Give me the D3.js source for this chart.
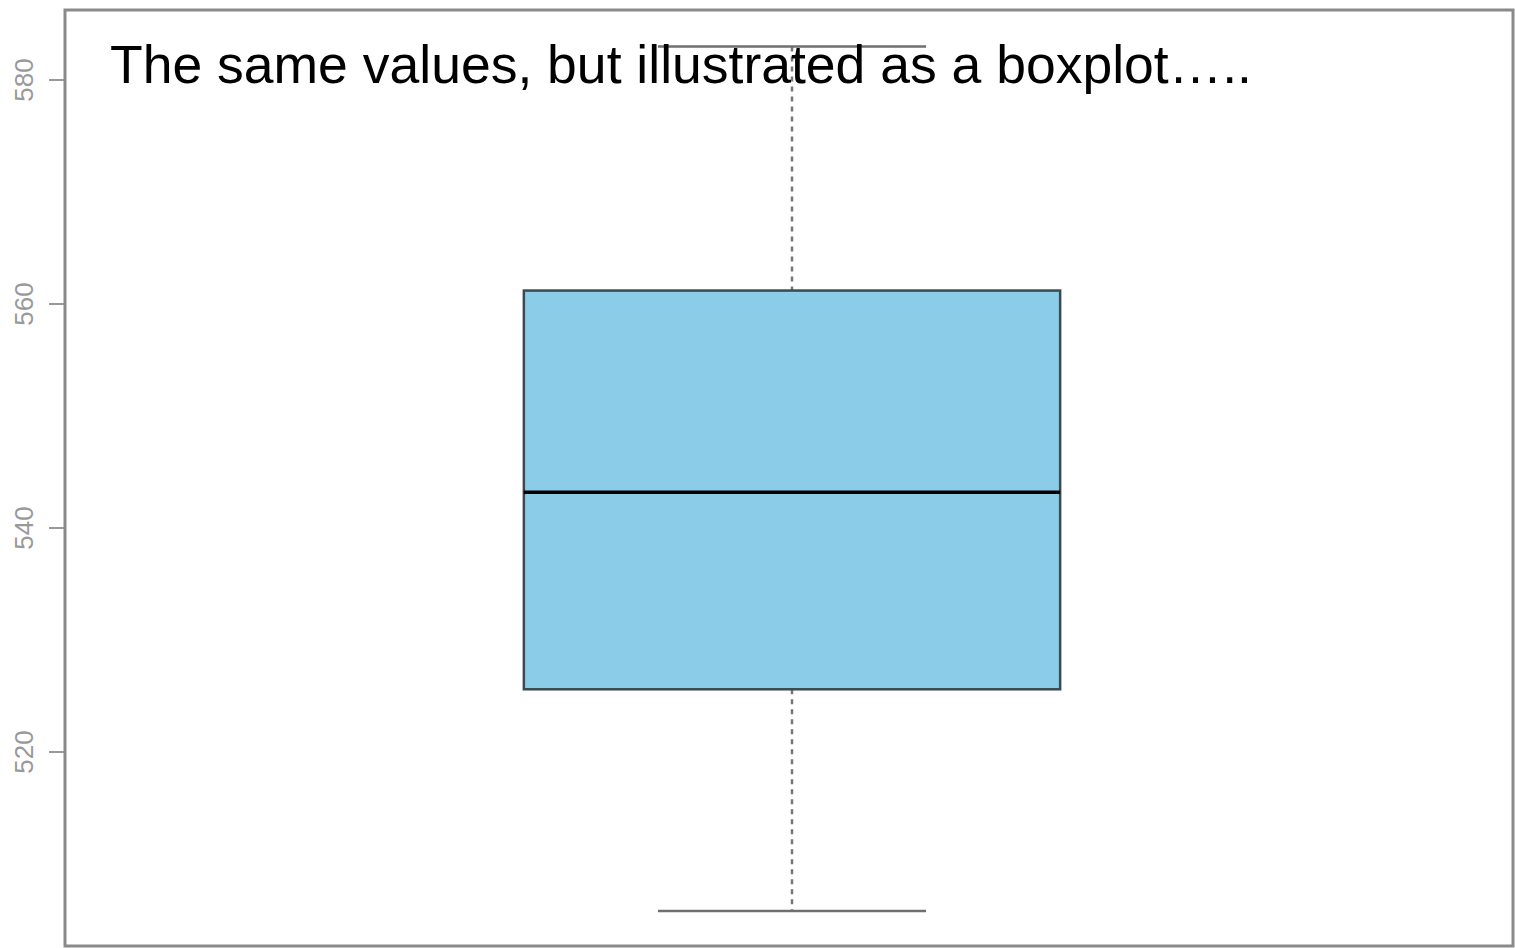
<!DOCTYPE html>
<html>
<meta charset="utf-8">
<style>
body { margin: 0; background: #fff; }
.frame { fill: none; stroke: #8a8a8a; stroke-width: 3px; }
.axis path { display: none; }
.axis line { stroke: #777; stroke-width: 1.5px; }
.axis text { fill: #999; font: 26px "Liberation Sans", Arial, sans-serif; }
.title { font: 53.5px "Liberation Sans", Arial, sans-serif; fill: #000; }
</style>
<body>
<script src="https://d3js.org/d3.v7.min.js"></script>
<script>
// box statistics
var groups = ["A"];
var lowWhisker = [505.8];
var q1 = [525.6];
var medians = [543.2];
var q3 = [561.2];
var highWhisker = [583.0];
var yTicks = [520, 540, 560, 580];
var titleText = "The same values, but illustrated as a boxplot\u2026..";

var W = 1515, H = 948;
var frame = {left: 65, right: 1513, top: 10, bottom: 946};

var svg = d3.select("body").append("svg")
    .attr("width", W)
    .attr("height", H);

// y scale
var y = d3.scaleLinear().domain([520, 580]).range([752, 80]);
// x scale, R style: positions 1..n with 0.5 padding
var x = d3.scaleLinear().domain([0.46, 1.54]).range([frame.left + 3, frame.right + 3]);

var data = groups.map(function(g, i) {
  return {g: g, pos: i + 1, lo: lowWhisker[i], q1: q1[i], med: medians[i], q3: q3[i], hi: highWhisker[i]};
});

var box = svg.selectAll(".box")
    .data(data)
  .enter().append("g")
    .attr("class", "box");

// whiskers (dashed)
box.append("line")
    .attr("x1", function(d) { return x(d.pos); })
    .attr("x2", function(d) { return x(d.pos); })
    .attr("y1", function(d) { return y(d.hi); })
    .attr("y2", function(d) { return y(d.q3); })
    .style("stroke", "#777")
    .style("stroke-width", 2.5)
    .style("stroke-dasharray", "5,5");
box.append("line")
    .attr("x1", function(d) { return x(d.pos); })
    .attr("x2", function(d) { return x(d.pos); })
    .attr("y1", function(d) { return y(d.q1); })
    .attr("y2", function(d) { return y(d.lo); })
    .style("stroke", "#777")
    .style("stroke-width", 2.5)
    .style("stroke-dasharray", "5,5");

// caps
box.selectAll(".cap")
    .data(function(d) { return [{pos: d.pos, v: d.hi}, {pos: d.pos, v: d.lo}]; })
  .enter().append("line")
    .attr("class", "cap")
    .attr("x1", function(d) { return x(d.pos - 0.1); })
    .attr("x2", function(d) { return x(d.pos + 0.1); })
    .attr("y1", function(d) { return y(d.v); })
    .attr("y2", function(d) { return y(d.v); })
    .style("stroke", "#6f6f6f")
    .style("stroke-width", 2.5);

// box body
box.append("rect")
    .attr("x", function(d) { return x(d.pos - 0.2); })
    .attr("width", function(d) { return x(d.pos + 0.2) - x(d.pos - 0.2); })
    .attr("y", function(d) { return y(d.q3); })
    .attr("height", function(d) { return y(d.q1) - y(d.q3); })
    .style("fill", "#8bcde8")
    .style("stroke", "#3a4a52")
    .style("stroke-width", 2.5);

// median
box.append("line")
    .attr("x1", function(d) { return x(d.pos - 0.2); })
    .attr("x2", function(d) { return x(d.pos + 0.2); })
    .attr("y1", function(d) { return y(d.med); })
    .attr("y2", function(d) { return y(d.med); })
    .style("stroke", "#000")
    .style("stroke-width", 3.5);

// y axis
var yAxis = svg.append("g")
    .attr("class", "axis")
    .attr("transform", "translate(" + frame.left + ",0)")
    .call(d3.axisLeft(y).tickValues(yTicks).tickSize(16).tickPadding(0));
yAxis.selectAll("text")
    .attr("transform", function(d) { return "translate(-41," + y(d) + ") rotate(-90)"; })
    .attr("x", 0)
    .attr("y", 0)
    .attr("dy", "0.35em")
    .style("text-anchor", "middle");
yAxis.selectAll(".tick").attr("transform", null);
yAxis.selectAll(".tick line")
    .attr("y1", function(d) { return y(d); })
    .attr("y2", function(d) { return y(d); });

// plot frame
svg.append("rect")
    .attr("class", "frame")
    .attr("x", frame.left)
    .attr("y", frame.top)
    .attr("width", frame.right - frame.left)
    .attr("height", frame.bottom - frame.top);

// overlaid title
svg.append("text")
    .attr("class", "title")
    .attr("x", 110)
    .attr("y", 83)
    .text(titleText);
</script>
</body>
</html>
